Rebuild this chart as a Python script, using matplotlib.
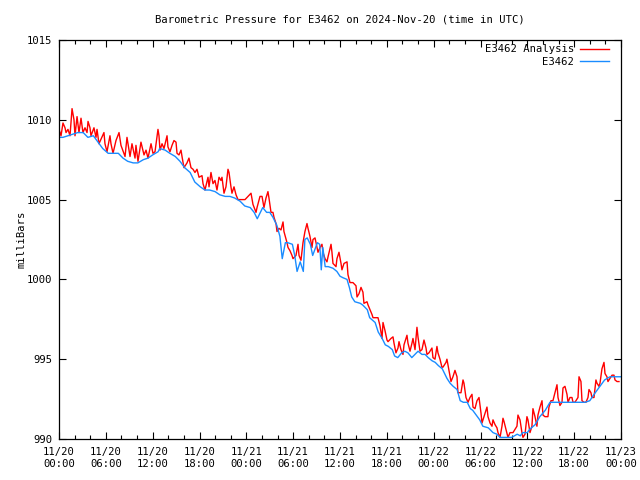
import numpy as np
import pandas as pd
import matplotlib
matplotlib.use("Agg")
import matplotlib.pyplot as plt
import matplotlib.dates as mdates

# hours after 2024-11-20 00:00 UTC, pressure in mb
analysis_hours = [
    0.0, 0.13, 0.26, 0.51, 0.77, 0.9, 1.15, 1.41, 1.67, 1.92, 2.05, 2.31, 2.56, 2.82,
    3.07, 3.33, 3.59, 3.72, 3.97, 4.1, 4.48, 4.74, 4.87, 5.12, 5.76, 5.89, 6.15, 6.53,
    6.66, 6.92, 7.3, 7.69, 7.94, 8.46, 8.71, 9.1, 9.35, 9.74, 9.86, 10.12, 10.5, 10.89,
    11.15, 11.4, 11.79, 12.04, 12.3, 12.68, 12.81, 12.94, 13.2, 13.45, 13.84, 13.96,
    14.22, 14.48, 14.73, 14.99, 15.12, 15.37, 15.63, 15.76, 16.01, 16.4, 16.65, 16.91,
    17.17, 17.42, 17.68, 17.94, 18.32, 18.45, 18.7, 19.09, 19.22, 19.47, 19.73, 19.98,
    20.24, 20.5, 20.75, 20.88, 21.14, 21.39, 21.65, 21.78, 22.03, 22.16, 22.42, 22.68,
    22.93, 23.83, 24.21, 24.6, 24.85, 25.24, 25.37, 25.75, 26.01, 26.26, 26.52, 26.77,
    26.9, 27.16, 27.41, 27.54, 27.8, 27.93, 28.18, 28.44, 28.7, 28.82, 29.21, 29.34,
    29.59, 29.85, 29.98, 30.36, 30.62, 30.75, 31.0, 31.26, 31.51, 31.77, 31.9, 32.15,
    32.41, 32.54, 32.8, 33.05, 33.18, 33.44, 33.69, 33.82, 34.08, 34.33, 34.46, 34.85,
    34.97, 35.1, 35.49, 35.61, 35.87, 36.13, 36.25, 36.51, 36.9, 37.02, 37.28, 37.66,
    38.05, 38.18, 38.43, 38.69, 38.94, 39.07, 39.46, 39.59, 39.84, 40.1, 40.23, 40.74,
    40.87, 41.12, 41.38, 41.51, 41.76, 42.02, 42.15, 42.53, 42.79, 42.92, 43.17, 43.43,
    43.56, 43.81, 44.07, 44.2, 44.58, 44.71, 44.97, 45.22, 45.35, 45.61, 45.86, 45.99,
    46.25, 46.5, 46.76, 47.02, 47.14, 47.4, 47.78, 47.91, 48.17, 48.42, 48.55, 48.81,
    49.06, 49.19, 49.58, 49.7, 49.96, 50.22, 50.47, 50.73, 50.99, 51.11, 51.5, 51.76,
    51.88, 52.14, 52.4, 52.65, 52.91, 53.04, 53.29, 53.55, 53.81, 54.07, 54.19, 54.45,
    54.83, 54.96, 55.22, 55.47, 55.6, 55.86, 56.11, 56.24, 56.5, 56.75, 56.88, 57.01,
    57.27, 57.52, 57.78, 58.16, 58.67, 58.8, 59.06, 59.31, 59.44, 59.7, 59.95, 60.08,
    60.34, 60.59, 60.72, 60.98, 61.23, 61.36, 61.62, 61.88, 62.0, 62.26, 62.64, 62.77,
    63.03, 63.28, 63.54, 63.8, 63.93, 64.18, 64.44, 64.57, 64.82, 65.08, 65.21, 65.46,
    65.72, 65.85, 66.1, 66.49, 66.62, 66.87, 67.0, 67.26, 67.51, 67.77, 67.9, 68.15,
    68.28, 68.54, 68.79, 68.92, 69.18, 69.31, 69.56, 69.82, 69.95, 70.2, 70.33, 70.59,
    70.85, 71.1, 71.23, 71.49, 71.74,
]
analysis_mb = [
    1009.4, 1009.2, 1009.0, 1009.8, 1009.5, 1009.2, 1009.4, 1009.0, 1010.7, 1010.0, 1009.0, 1010.2, 1009.2, 1010.1,
    1009.2, 1009.5, 1009.2, 1009.9, 1009.5, 1009.0, 1009.5, 1008.9, 1009.4, 1008.5, 1009.2, 1008.5, 1008.0, 1009.0,
    1008.5, 1007.9, 1008.7, 1009.2, 1008.4, 1007.7, 1008.9, 1007.7, 1008.5, 1007.6, 1008.4, 1007.4, 1008.6, 1007.8,
    1008.1, 1007.6, 1008.5, 1007.9, 1008.0, 1009.4, 1009.0, 1008.1, 1008.5, 1008.2, 1009.0, 1008.3,
    1008.0, 1008.4, 1008.7, 1008.6, 1007.9, 1007.8, 1008.1, 1007.7, 1007.0, 1007.3, 1007.6, 1007.0,
    1006.9, 1006.7, 1006.9, 1006.4, 1006.5, 1006.0, 1005.6, 1006.4, 1005.8, 1006.7, 1006.0, 1006.2,
    1005.6, 1006.4, 1006.2, 1006.4, 1005.4, 1005.8, 1006.9, 1006.7, 1005.8, 1005.4, 1005.8, 1005.3,
    1005.0, 1005.0, 1005.2, 1005.4, 1004.7, 1004.2, 1004.5, 1005.2, 1005.2, 1004.5, 1005.1, 1005.5,
    1005.1, 1004.2, 1004.2, 1003.9, 1003.5, 1003.0, 1003.2, 1003.1, 1003.6, 1003.0, 1002.3, 1002.0,
    1001.8, 1001.5, 1001.3, 1001.5, 1002.2, 1001.5, 1001.2, 1002.3, 1003.0, 1003.5, 1003.2, 1002.7,
    1002.0, 1002.5, 1002.6, 1002.0, 1001.7, 1002.0, 1002.2, 1001.7, 1001.3, 1001.1, 1001.4, 1002.2,
    1001.7, 1001.0, 1000.8, 1001.3, 1001.7, 1001.0, 1000.6, 1001.0, 1001.1, 1000.3, 999.8, 999.8,
    999.6, 998.9, 999.1, 999.5, 999.2, 998.5, 998.6, 998.4, 998.1, 997.8, 997.6, 997.6,
    997.6, 997.1, 996.3, 997.3, 996.8, 996.2, 996.1, 996.3, 996.4, 996.0, 995.4, 995.7,
    996.1, 995.6, 995.3, 995.9, 996.5, 996.0, 995.5, 996.0, 996.3, 995.6, 997.0, 996.4,
    995.5, 995.6, 996.2, 995.7, 995.3, 995.4, 995.7, 995.1, 995.0, 995.8, 995.4, 995.0,
    994.5, 994.5, 994.8, 995.0, 994.3, 993.6, 993.9, 994.3, 993.9, 992.9, 992.9, 993.7,
    993.5, 992.6, 992.3, 992.6, 992.8, 992.0, 991.9, 992.4, 992.6, 991.6, 991.0, 991.4,
    992.0, 991.4, 991.0, 990.8, 991.2, 990.9, 990.7, 990.4, 990.1, 990.8, 991.3, 991.1,
    990.6, 990.1, 990.4, 990.4, 990.8, 991.5, 991.2, 990.4, 990.1, 990.3, 991.4, 991.2,
    990.4, 990.8, 991.9, 991.4, 990.8, 991.5, 992.0, 992.4, 991.5, 991.4, 991.4, 992.0,
    992.4, 992.4, 992.9, 993.4, 992.6, 992.1, 992.3, 993.2, 993.3, 992.8, 992.3, 992.6,
    992.6, 992.3, 992.3, 992.6, 993.9, 993.6, 992.4, 992.3, 992.3, 992.6, 993.1, 992.9,
    992.6, 992.6, 993.7, 993.5, 993.3, 993.5, 994.4, 994.8, 994.1, 993.9, 993.6, 993.8,
    994.0, 994.0, 993.7, 993.6, 993.6,
]

station_hours = [
    0.0, 0.5, 1.15, 2.4, 3.1, 3.7, 4.4, 5.0, 5.6, 6.3, 6.9, 7.6, 8.2, 8.8, 9.5, 10.1,
    10.8, 11.4, 12.0, 12.7, 12.9, 13.6, 14.2, 14.9, 15.5, 16.1, 16.8, 17.4, 18.1, 18.7,
    19.3, 20.0, 20.6, 21.3, 21.9, 22.5, 23.2, 23.8, 24.5, 25.0, 25.4, 25.8, 26.1, 26.6,
    27.0, 27.4, 27.9, 28.3, 28.6, 29.0, 29.3, 29.9, 30.2, 30.5, 30.9, 31.3, 31.5, 31.8,
    32.2, 32.5, 33.1, 33.4, 33.6, 33.8, 34.1, 34.5, 35.1, 35.6, 36.0, 36.4, 36.9, 37.2,
    37.5, 37.9, 38.6, 38.9, 39.5, 39.8, 40.5, 40.9, 41.4, 41.8, 42.2, 42.7, 43.0, 43.4,
    43.9, 44.3, 44.7, 45.2, 45.6, 46.0, 46.5, 46.9, 47.3, 47.8, 48.2, 48.6, 49.1, 49.7,
    50.1, 50.5, 51.0, 51.4, 51.8, 52.3, 52.7, 53.0, 53.6, 53.9, 54.3, 55.0, 55.6, 56.1,
    56.5, 57.1, 57.5, 58.0, 58.7, 59.1, 59.4, 60.0, 60.3, 61.0, 61.6, 62.3, 62.9, 63.5,
    64.2, 64.8, 65.5, 66.1, 66.7, 67.4, 68.0, 68.7, 69.3, 69.9, 70.6, 71.2, 72.0,
]
station_mb = [
    1008.9, 1008.9, 1009.0, 1009.2, 1009.2, 1008.9, 1009.0, 1008.6, 1008.2, 1007.9, 1007.9, 1007.9, 1007.6, 1007.4, 1007.3, 1007.3,
    1007.5, 1007.6, 1007.8, 1008.0, 1008.2, 1008.1, 1007.9, 1007.7, 1007.4, 1007.0, 1006.7, 1006.1, 1005.8, 1005.6,
    1005.6, 1005.5, 1005.3, 1005.2, 1005.2, 1005.1, 1004.9, 1004.6, 1004.5, 1004.2, 1003.8, 1004.2, 1004.5, 1004.2,
    1004.2, 1003.9, 1003.4, 1002.7, 1001.3, 1002.3, 1002.3, 1002.2, 1001.5, 1000.5, 1001.1, 1000.5, 1002.5, 1002.6,
    1002.2, 1001.5, 1002.3, 1002.2, 1000.6, 1002.0, 1000.8, 1000.8, 1000.7, 1000.5, 1000.2, 1000.1, 1000.0, 999.5,
    998.9, 998.6, 998.5, 998.4, 998.1, 997.6, 997.3, 996.7, 996.3, 995.9, 995.8, 995.6, 995.2, 995.1,
    995.4, 995.5, 995.4, 995.1, 995.3, 995.5, 995.3, 995.3, 995.1, 994.9, 994.8, 994.6, 994.4, 993.8,
    993.5, 993.3, 993.1, 992.4, 992.3, 992.3, 991.9, 991.8, 991.4, 991.2, 990.8, 990.7, 990.4, 990.3,
    990.1, 990.1, 990.1, 990.1, 990.3, 990.2, 990.4, 990.4, 990.6, 990.9, 991.4, 991.8, 992.3, 992.3,
    992.3, 992.3, 992.3, 992.3, 992.3, 992.3, 992.4, 992.9, 993.3, 993.7, 993.9, 993.9, 993.9,
]

series_labels = ["E3462 Analysis", "E3462"]
series_colors = ["#ff0000", "#1a8cff"]
title = "Barometric Pressure for E3462 on 2024-Nov-20 (time in UTC)"
y_ticks = [990, 995, 1000, 1005, 1010, 1015]

plt.rcParams["font.family"] = ["DejaVu Sans Mono"]
plt.rcParams["font.size"] = 7.6

base = pd.Timestamp("2024-11-20 00:00")
t_an = base + pd.to_timedelta(analysis_hours, unit="h")
t_st = base + pd.to_timedelta(station_hours, unit="h")

fig = plt.figure(figsize=(6.4, 4.8), dpi=100)
ax = fig.add_axes([59 / 640, 41 / 480, 562 / 640, 399 / 480])

ax.plot(t_an, analysis_mb, color=series_colors[0], lw=1.0, label=series_labels[0])
ax.plot(t_st, station_mb, color=series_colors[1], lw=1.0, label=series_labels[1])

ax.set_xlim(base, base + pd.Timedelta(hours=72))
ax.set_ylim(990, 1015)
ax.set_yticks(y_ticks)

ax.xaxis.set_major_locator(mdates.HourLocator(byhour=[0, 6, 12, 18]))
ax.xaxis.set_minor_locator(mdates.HourLocator(byhour=range(0, 24, 2)))
ax.xaxis.set_major_formatter(mdates.DateFormatter("%m/%d\n%H:%M"))

ax.tick_params(which="both", direction="in", top=True, right=True, colors="black")
ax.tick_params(which="major", length=5, width=0.8)
ax.tick_params(which="minor", length=3, width=0.8)
ax.tick_params(axis="x", pad=6)
ax.tick_params(axis="y", pad=5)
for s in ax.spines.values():
    s.set_linewidth(0.9)

ax.set_ylabel("milliBars", labelpad=0)
fig.text(340 / 640, 1 - 20 / 480, title, ha="center", va="center")

ax.legend(loc="upper right", bbox_to_anchor=(0.986, 1.0), frameon=False,
          markerfirst=False, handlelength=2.7, handletextpad=0.6,
          labelspacing=0.25, borderaxespad=0.0)

fig.savefig("out.png", dpi=100)
